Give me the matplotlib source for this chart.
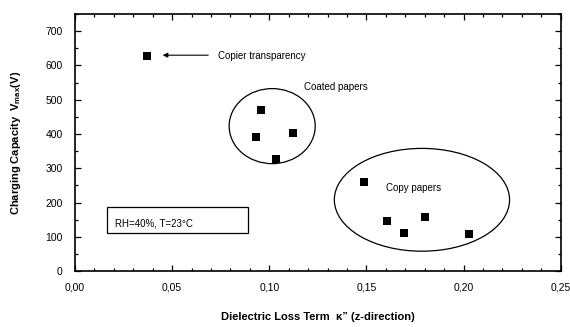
import numpy as np
from matplotlib import pyplot as plt
from matplotlib.patches import Ellipse, Rectangle
from matplotlib.ticker import MultipleLocator, FuncFormatter

plt.rcParams['font.family'] = ['Liberation Sans', 'DejaVu Sans']

# data
kappa = [0.037, 0.0959, 0.0933, 0.1036, 0.1124,
         0.149, 0.1607, 0.1694, 0.180, 0.203]
vmax = [627, 469, 391, 327, 402,
        259, 147, 111, 157, 107]

fig = plt.figure(figsize=(5.7, 3.27), dpi=100)
ax = fig.add_axes([0.1316, 0.171, 0.852, 0.786])

ax.plot(kappa, vmax, 's', color='black', markersize=5.4, markeredgewidth=0)

# groups
ax.add_patch(Ellipse((0.1015, 423), 0.0443, 219, fill=False, lw=0.9, color='black'))
ax.add_patch(Ellipse((0.1786, 208), 0.0902, 300, fill=False, lw=0.9, color='black'))

ax.annotate('', xy=(0.0437, 630), xytext=(0.070, 630),
            arrowprops=dict(arrowstyle='-|>', color='black', lw=0.8, mutation_scale=7))
ax.text(0.0735, 628, 'Copier transparency', fontsize=7, va='center')
ax.text(0.118, 537, 'Coated papers', fontsize=7, va='center')
ax.text(0.160, 242, 'Copy papers', fontsize=7, va='center')

ax.add_patch(Rectangle((0.0165, 110), 0.0728, 77, fill=False, lw=0.9, color='black'))
ax.text(0.0205, 140, 'RH=40%, T=23°C', fontsize=7, va='center')

ax.set_xlim(0, 0.25)
ax.set_ylim(0, 750)
ax.xaxis.set_major_locator(MultipleLocator(0.05))
ax.xaxis.set_minor_locator(MultipleLocator(0.01))
ax.yaxis.set_minor_locator(MultipleLocator(50))
ax.set_yticks(np.arange(0, 701, 100))
ax.xaxis.set_major_formatter(FuncFormatter(lambda v, p: ('%.2f' % v).replace('.', ',')))
ax.tick_params(which='both', direction='in', top=True, right=True, labelsize=7.5, width=0.9)
ax.tick_params(which='major', length=4)
ax.tick_params(which='minor', length=2.5)
ax.tick_params(axis='x', pad=8)
ax.tick_params(axis='y', pad=9)
for s in ax.spines.values():
    s.set_linewidth(1.2)

ax.set_xlabel('Dielectric Loss Term  κ” (z-direction)', fontsize=8, fontweight='bold', labelpad=14)
ax.set_ylabel(r'Charging Capacity  V$_{\mathregular{max}}$(V)', fontsize=8, fontweight='bold', labelpad=16)

fig.savefig('out.png', dpi=100)
